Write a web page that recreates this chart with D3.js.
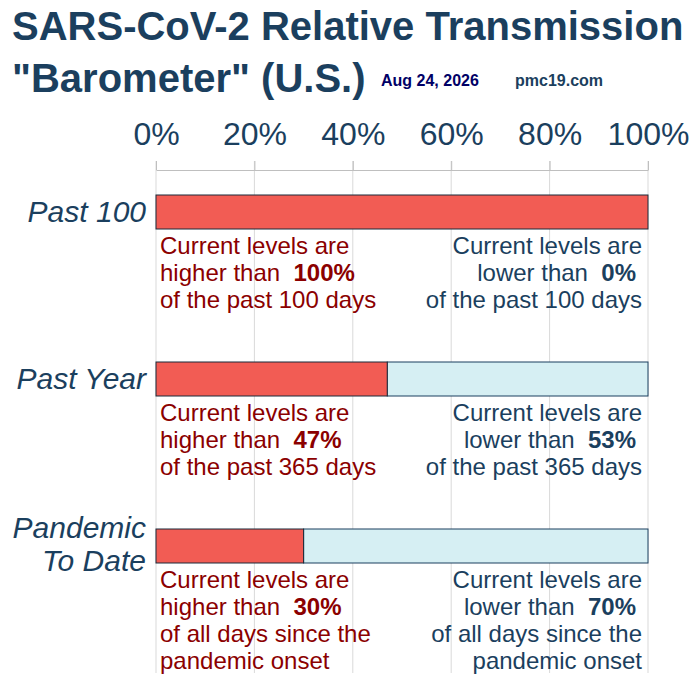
<!DOCTYPE html>
<html>
<head>
<meta charset="utf-8">
<script src="https://cdn.jsdelivr.net/npm/d3@7"></script>
<style>
  body { margin: 0; background: #fff; }
  svg { font-family: "Liberation Sans", Arial, sans-serif; }
</style>
</head>
<body>
<div id="chart"></div>
<script>
// data
const periods = ["Past 100", "Past Year", "Pandemic To Date"]
const periodLines = [["Past 100"], ["Past Year"], ["Pandemic", "To Date"]]
const higherPct = [100, 47, 30]
const lowerPct = [0, 53, 70]
const tickValues = [0, 20, 40, 60, 80, 100]
const daysText = [
  ["of the past 100 days"],
  ["of the past 365 days"],
  ["of all days since the", "pandemic onset"]
]
const dateLabel = "Aug 24, 2026"
const siteLabel = "pmc19.com"

const width = 691, height = 679
const navy = "#1b3f5e"
const darkRed = "#8b0000"

var svg = d3.select("#chart").append("svg")
  .attr("width", width)
  .attr("height", height)

// title
svg.append("text")
  .attr("x", 12).attr("y", 40)
  .style("font-size", "40px").style("font-weight", "bold").style("fill", navy)
  .text("SARS-CoV-2 Relative Transmission")
svg.append("text")
  .attr("x", 12).attr("y", 92)
  .style("font-size", "40px").style("font-weight", "bold").style("fill", navy)
  .text("\"Barometer\" (U.S.)")
svg.append("text")
  .attr("x", 381).attr("y", 86)
  .style("font-size", "16px").style("font-weight", "bold").style("fill", "#000066")
  .text(dateLabel)
svg.append("text")
  .attr("x", 515).attr("y", 86)
  .style("font-size", "16px").style("font-weight", "bold").style("fill", navy)
  .text(siteLabel)

// scales
const x = d3.scaleLinear().domain([0, 100]).range([156, 648])
const barTop = d3.scaleOrdinal().domain(periods).range([195, 362, 529])
const barH = 34
const gridTop = 161, gridBottom = 673

// grid lines
svg.append("g")
  .selectAll("line")
  .data(tickValues)
  .join("line")
    .attr("x1", d => x(d)).attr("x2", d => x(d))
    .attr("y1", gridTop).attr("y2", gridBottom)
    .style("stroke", "#d9d9d9").style("stroke-width", 1)

// top axis
var axis = svg.append("g")
  .attr("transform", "translate(0,170)")
  .call(d3.axisTop(x).tickValues(tickValues).tickSize(9).tickSizeOuter(0).tickFormat(d => d + "%"))
axis.select(".domain").style("stroke", "#bfbfbf")
axis.selectAll(".tick line").style("stroke", "#bfbfbf")
axis.selectAll(".tick text")
  .attr("y", -25)
  .style("font-size", "32px")
  .style("font-family", "Liberation Sans, Arial, sans-serif")
  .style("fill", navy)

// bars
const rows = periods.map((p, i) => ({ period: p, higher: higherPct[i], lower: lowerPct[i], i: i }))

var groups = svg.selectAll(".row")
  .data(rows)
  .join("g")
    .attr("class", "row")

groups.append("rect")
  .attr("x", d => x(d.higher))
  .attr("y", d => barTop(d.period))
  .attr("width", d => x(100) - x(d.higher))
  .attr("height", barH)
  .style("fill", "#d6eff3")
  .style("stroke", navy)
  .style("stroke-width", 1)

groups.append("rect")
  .attr("x", x(0))
  .attr("y", d => barTop(d.period))
  .attr("width", d => x(d.higher) - x(0))
  .attr("height", barH)
  .style("fill", "#f25c54")
  .style("stroke", "#1a2a3a")
  .style("stroke-width", 1)

// category labels
groups.append("text")
  .attr("text-anchor", "end")
  .style("font-size", "30px").style("font-style", "italic").style("fill", navy)
  .selectAll("tspan")
  .data(d => periodLines[d.i].map((t, k) => ({ t: t, k: k, n: periodLines[d.i].length, top: barTop(d.period) })))
  .join("tspan")
    .attr("x", 146)
    .attr("y", d => d.n == 1 ? d.top + 27 : d.top + 9 + d.k * 33)
    .text(d => d.t)

// annotations
const lineGap = 27
function annotate(g, d, side) {
  const base = barTop(d.period) + barH + 25
  const isLeft = side == "left"
  const color = isLeft ? darkRed : navy
  const xPos = isLeft ? 160 : 642
  const anchor = isLeft ? "start" : "end"
  const pct = isLeft ? d.higher : d.lower
  const word = isLeft ? "higher than " : "lower than "
  const lines = daysText[d.i]

  const t = g.append("g")
    .attr("text-anchor", anchor)
    .style("font-size", "24px")
    .style("fill", color)

  t.append("text").attr("x", xPos).attr("y", base).text("Current levels are")
  var second = t.append("text").attr("x", isLeft ? xPos : xPos - 6).attr("y", base + lineGap)
  second.append("tspan").text(word + "\u00a0")
  second.append("tspan").style("font-weight", "bold").text(pct + "%")
  lines.forEach((l, k) => {
    t.append("text").attr("x", xPos).attr("y", base + lineGap * (k + 2)).text(l)
  })
}

groups.each(function(d) {
  annotate(d3.select(this), d, "left")
  annotate(d3.select(this), d, "right")
})
</script>
</body>
</html>
